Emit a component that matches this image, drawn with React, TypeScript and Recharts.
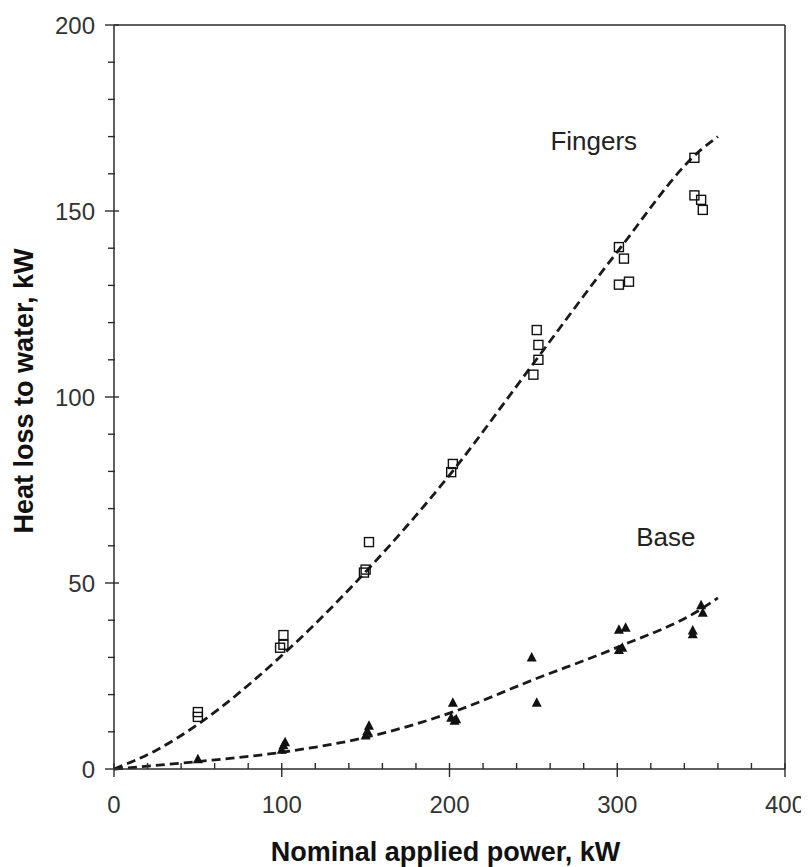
import React from "react";
import {
	ComposedChart,
	Label,
	Line,
	ReferenceDot,
	ReferenceLine,
	Scatter,
	XAxis,
	YAxis,
} from "recharts";

// axis ticks (minor every 20 / 10, labels only on the big ones)
const xTicks = [0, 20, 40, 60, 80, 100, 120, 140, 160, 180, 200, 220, 240, 260, 280, 300, 320, 340, 360, 380, 400];
const yTicks = [0, 10, 20, 30, 40, 50, 60, 70, 80, 90, 100, 110, 120, 130, 140, 150, 160, 170, 180, 190, 200];
const xLabelTicks = [0, 100, 200, 300, 400];
const yLabelTicks = [0, 50, 100, 150, 200];

// Fingers, open squares
const fingersPower = [50, 50, 101, 99, 101, 152, 150, 149, 202, 201, 252, 253, 253, 250, 301, 304, 301, 307, 346, 346, 350, 351];
const fingersHeat = [15.3, 14, 36, 32.6, 33.4, 61, 53.6, 52.8, 82, 79.8, 118, 114, 110, 106, 140.3, 137.2, 130.2, 131, 164.3, 154.2, 153, 150.3];

// Base, filled triangles
const basePower = [50, 100, 101, 102, 150, 151, 152, 202, 201, 203, 204, 249, 252, 301, 305, 301, 303, 350, 351, 345, 345];
const baseHeat = [2.6, 5.2, 6.4, 7.2, 9, 10.2, 11.6, 17.8, 13.8, 13, 13.4, 30, 17.8, 37.4, 38, 32, 32.6, 44, 42, 37.2, 36.2];

// dashed fit curves
const fingersFitPower = [0, 25, 50, 100, 150, 200, 250, 300, 350, 360];
const fingersFitHeat = [0, 5, 12, 30.5, 53, 79, 109, 139, 166.5, 170];
const baseFitPower = [0, 50, 100, 150, 200, 250, 300, 350, 360];
const baseFitHeat = [0, 2, 4.5, 8.5, 15, 24, 32.7, 43, 46];

const toPoints = (xs: number[], ys: number[]) => xs.map((x, i) => ({ x, y: ys[i] }));

const fingersData = toPoints(fingersPower, fingersHeat);
const baseData = toPoints(basePower, baseHeat);
const fingersFit = toPoints(fingersFitPower, fingersFitHeat);
const baseFit = toPoints(baseFitPower, baseFitHeat);

const INK = "#2b2b2b";
const FONT = "'Liberation Sans', Arial, Helvetica, sans-serif";

const Square = (props: any) => {
	const { cx, cy } = props;
	if (cx == null || cy == null) return null;
	return <rect x={cx - 4.5} y={cy - 4.5} width={9} height={9} fill="none" stroke="#111" strokeWidth={1.4} />;
};

const Triangle = (props: any) => {
	const { cx, cy } = props;
	if (cx == null || cy == null) return null;
	return <path d={`M${cx},${cy - 5.5} L${cx + 5},${cy + 4} L${cx - 5},${cy + 4} Z`} fill="#111" />;
};

const XTick = (props: any) => {
	const { x, y, payload } = props;
	const major = xLabelTicks.includes(payload.value);
	return (
		<g>
			<line x1={x} x2={x} y1={y - 6} y2={major ? y + 8 : y} stroke={INK} strokeWidth={1.4} />
			{major && (
				<text x={x} y={y + 35} textAnchor="middle" dominantBaseline="central" fontSize={24} fill="#333" fontFamily={FONT}>
					{payload.value}
				</text>
			)}
		</g>
	);
};

const YTick = (props: any) => {
	const { x, y, payload } = props;
	const major = yLabelTicks.includes(payload.value);
	return (
		<g>
			<line x1={major ? x - 9 : x - 6} x2={major ? x + 5 : x + 1} y1={y} y2={y} stroke={INK} strokeWidth={1.4} />
			{major && (
				<text x={x - 19} y={y} textAnchor="end" dominantBaseline="central" fontSize={24} fill="#333" fontFamily={FONT}>
					{payload.value}
				</text>
			)}
		</g>
	);
};

const XTitle = (props: any) => {
	const { viewBox } = props;
	return (
		<text x={viewBox.x + viewBox.width / 2 - 4} y={853} textAnchor="middle" fontSize={27} fontWeight="bold" fill="#111" fontFamily={FONT}>
			Nominal applied power, kW
		</text>
	);
};

const YTitle = (props: any) => {
	const { viewBox } = props;
	const cx = 25;
	const cy = viewBox.y + viewBox.height / 2 - 6;
	return (
		<text x={cx} y={cy} transform={`rotate(-90 ${cx} ${cy})`} textAnchor="middle" fontSize={27} fontWeight="bold" fill="#111" fontFamily={FONT}>
			Heat loss to water, kW
		</text>
	);
};

export default function App() {
	return (
		<div style={{ width: 801, height: 859, fontFamily: FONT, background: "#fff" }}>
			<ComposedChart width={801} height={859} margin={{ top: 17, right: 24, bottom: 0, left: 0 }}>
				<XAxis
					type="number"
					dataKey="x"
					domain={[0, 400]}
					ticks={xTicks}
					interval={0}
					tickSize={0}
					tickMargin={0}
					tickLine={false}
					tick={<XTick />}
					axisLine={{ stroke: INK, strokeWidth: 1.5 }}
					height={98}
				>
					<Label content={<XTitle />} />
				</XAxis>
				<YAxis
					type="number"
					dataKey="y"
					domain={[0, 200]}
					ticks={yTicks}
					interval={0}
					tickSize={0}
					tickMargin={0}
					tickLine={false}
					tick={<YTick />}
					axisLine={{ stroke: INK, strokeWidth: 1.5 }}
					width={106}
				>
					<Label content={<YTitle />} />
				</YAxis>
				<ReferenceLine y={200} stroke={INK} strokeWidth={1.5} />
				<ReferenceLine x={400} stroke={INK} strokeWidth={1.5} />

				<Line data={fingersFit} dataKey="y" type="monotone" stroke="#1a1a1a" strokeWidth={2.8} strokeDasharray="9 5" dot={false} activeDot={false} isAnimationActive={false} />
				<Line data={baseFit} dataKey="y" type="monotone" stroke="#1a1a1a" strokeWidth={2.8} strokeDasharray="9 5" dot={false} activeDot={false} isAnimationActive={false} />
				<Scatter data={fingersData} dataKey="y" shape={<Square />} isAnimationActive={false} />
				<Scatter data={baseData} dataKey="y" shape={<Triangle />} isAnimationActive={false} />

				<ReferenceDot x={286} y={168.8} r={0} fill="none" stroke="none" label={{ value: "Fingers", position: "center", fontSize: 26, fill: "#222", fontFamily: FONT }} />
				<ReferenceDot x={329} y={62.4} r={0} fill="none" stroke="none" label={{ value: "Base", position: "center", fontSize: 26, fill: "#222", fontFamily: FONT }} />
			</ComposedChart>
		</div>
	);
}
